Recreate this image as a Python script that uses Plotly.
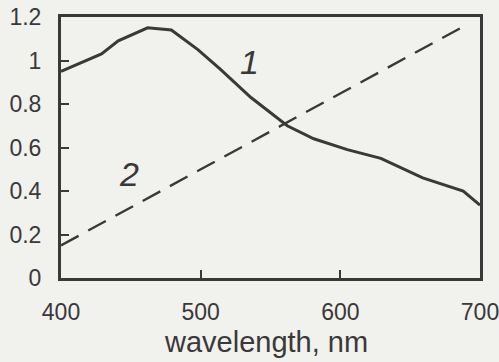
import plotly.graph_objects as go

# Curve 1 (solid)
wl1 = [400, 429, 441, 462, 479, 498, 514, 536, 562, 581, 605, 629, 659, 688, 700]
v1 = [0.95, 1.03, 1.09, 1.15, 1.14, 1.05, 0.96, 0.83, 0.70, 0.64, 0.59, 0.55, 0.46, 0.40, 0.335]
# Curve 2 (dashed)
wl2 = [400, 692]
v2 = [0.15, 1.17]

xticks = [400, 500, 600, 700]
yticks = [0, 0.2, 0.4, 0.6, 0.8, 1, 1.2]
yticktext = ["0", "0.2", "0.4", "0.6", "0.8", "1", "1.2"]

ink = "#3a3838"
paper = "#f1f1ed"
font = "Liberation Sans"

fig = go.Figure()
fig.add_trace(go.Scatter(x=wl1, y=v1, mode="lines", line=dict(color=ink, width=3), showlegend=False))
fig.add_trace(go.Scatter(x=wl2, y=v2, mode="lines", line=dict(color=ink, width=2.4, dash="20px,11px"), showlegend=False))

fig.add_annotation(x=535, y=0.995, text="<i>1</i>", showarrow=False,
                   font=dict(family=font, size=34, color=ink))
fig.add_annotation(x=449, y=0.48, text="<i>2</i>", showarrow=False,
                   font=dict(family=font, size=34, color=ink))
fig.add_annotation(x=0.49, xref="paper", y=-0.245, yref="paper", yanchor="middle",
                   text="wavelength, nm", showarrow=False,
                   font=dict(family=font, size=29, color=ink))

fig.update_xaxes(range=[400, 700], tickvals=xticks, ticks="inside", ticklen=8, tickwidth=2,
                 tickcolor=ink, showline=True, linecolor=ink, linewidth=3, mirror=True,
                 showgrid=False, zeroline=False, ticklabelstandoff=11, ticklabeloverflow="allow",
                 automargin=False,
                 tickfont=dict(family=font, size=23, color=ink))
fig.update_yaxes(range=[0, 1.2], tickvals=yticks, ticktext=yticktext, ticks="inside", ticklen=8,
                 tickwidth=2, tickcolor=ink, showline=True, linecolor=ink, linewidth=3, mirror=True,
                 showgrid=False, zeroline=False, ticklabelstandoff=12, ticklabeloverflow="allow",
                 automargin=False,
                 tickfont=dict(family=font, size=23, color=ink))

fig.update_layout(width=499, height=362, margin=dict(l=61, r=19, t=17, b=84, autoexpand=False),
                  paper_bgcolor=paper, plot_bgcolor=paper)

fig.write_html("out.html", config={"displayModeBar": False},
               post_script="document.body.style.margin='0';document.body.style.overflow='hidden';"
                           "document.body.style.background='" + paper + "';")
